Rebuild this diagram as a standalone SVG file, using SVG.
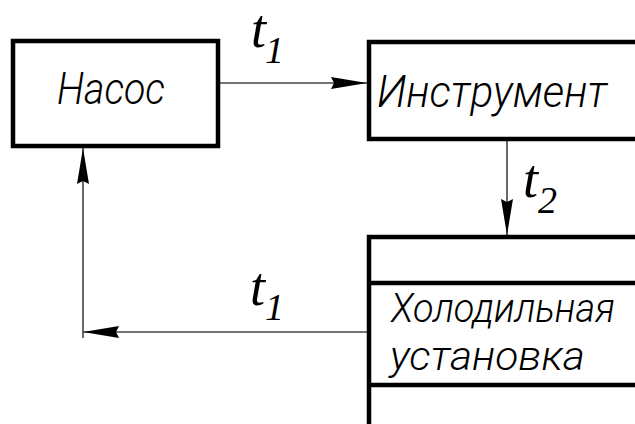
<svg xmlns="http://www.w3.org/2000/svg" width="635" height="424" viewBox="0 0 635 424">
<defs>
<style>
.box{fill:none;stroke:#000;stroke-width:4.5}
.sep{stroke:#000;stroke-width:4.5}
.con{fill:none;stroke:#444;stroke-width:1.6}
.lbl{font-family:Roboto,"Liberation Sans",sans-serif;font-style:italic;font-weight:300;fill:#000}
.t{font-family:"Liberation Serif","Times New Roman",serif;font-style:italic;fill:#000}
</style>
<marker id="arr" viewBox="0 0 36 12" refX="36" refY="6" markerWidth="36" markerHeight="12" orient="auto" markerUnits="userSpaceOnUse">
<path d="M0,0 L36,6 L0,12 L3,6 Z" fill="#000"/>
</marker>
</defs>
<g id="connectors">
<line class="con" x1="220" y1="83" x2="367" y2="83" marker-end="url(#arr)"/>
<line class="con" x1="507" y1="141" x2="507" y2="235" marker-end="url(#arr)"/>
<line class="con" x1="367" y1="332" x2="83" y2="332" marker-end="url(#arr)"/>
<line class="con" x1="83" y1="338" x2="83" y2="148" marker-end="url(#arr)"/>
<text class="t" font-size="54" x="251" y="47">t<tspan font-size="38" x="265" y="63">1</tspan></text>
<text class="t" font-size="54" x="523" y="197">t<tspan font-size="38" x="538" y="213">2</tspan></text>
<text class="t" font-size="54" x="250" y="305">t<tspan font-size="38" x="265" y="320">1</tspan></text>
</g>
<g id="nasos">
<rect class="box" x="13" y="41" width="205" height="105"/>
<text class="lbl" font-size="45" x="57" y="104" textLength="108" lengthAdjust="spacingAndGlyphs">Насос</text>
</g>
<g id="instrument">
<rect class="box" x="369" y="42" width="300" height="97"/>
<text class="lbl" font-size="45" x="377" y="107" textLength="230" lengthAdjust="spacingAndGlyphs">Инструмент</text>
</g>
<g id="holod">
<rect class="box" x="369" y="237" width="300" height="220"/>
<line class="sep" x1="369" y1="283" x2="669" y2="283"/>
<line class="sep" x1="369" y1="385" x2="669" y2="385"/>
<text class="lbl" font-size="40" x="391" y="322" textLength="224" lengthAdjust="spacingAndGlyphs">Холодильная</text>
<text class="lbl" font-size="40" x="390" y="370" textLength="195" lengthAdjust="spacingAndGlyphs">установка</text>
</g>
</svg>
